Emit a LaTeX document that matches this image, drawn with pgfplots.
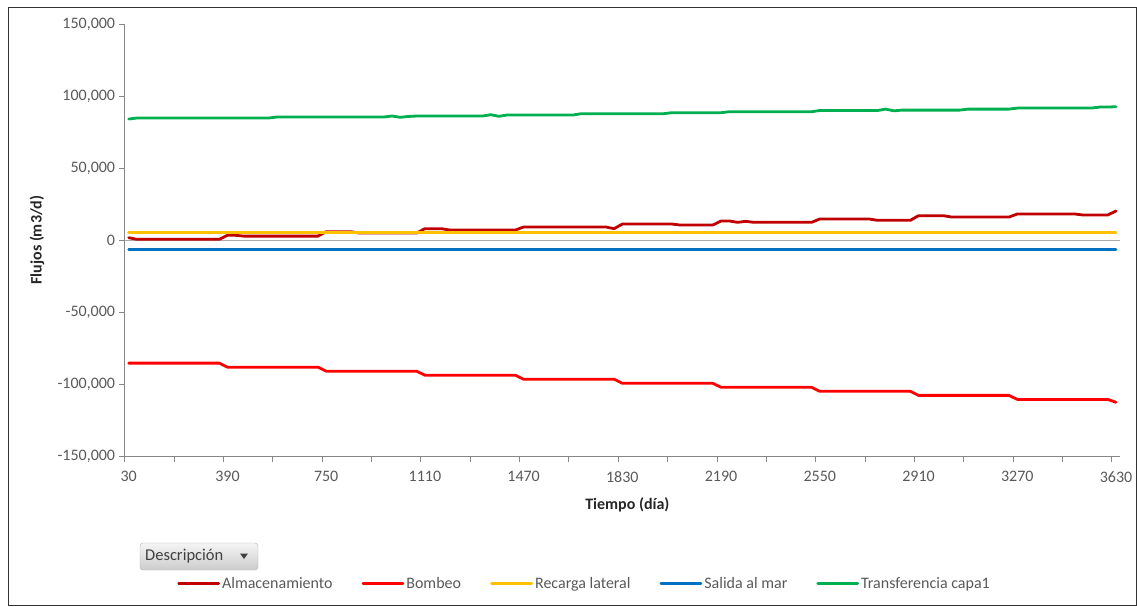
\documentclass[border=0pt]{standalone}
\usepackage{pgfplots}
\usepackage{pgfplotstable}
\pgfplotsset{compat=1.18}
\usepackage{fontspec}
\setmainfont{Carlito}
\definecolor{almac}{RGB}{192,0,0}
\definecolor{bombeo}{RGB}{255,0,0}
\definecolor{recarga}{RGB}{255,192,0}
\definecolor{salida}{RGB}{0,112,192}
\definecolor{transf}{RGB}{0,176,80}
\definecolor{labelgray}{RGB}{89,89,89}
\definecolor{axisgray}{RGB}{134,134,134}
\definecolor{zerogray}{RGB}{170,170,170}

\pgfplotstableread{
day S B R M G
30 1620 -85500 4900 -6700 84000
60 460 -85500 4900 -6700 84700
90 460 -85500 4900 -6700 84700
120 460 -85500 4900 -6700 84700
150 460 -85500 4900 -6700 84700
180 460 -85500 4900 -6700 84700
210 460 -85500 4900 -6700 84700
240 460 -85500 4900 -6700 84700
270 460 -85500 4900 -6700 84700
300 460 -85500 4900 -6700 84700
330 460 -85500 4900 -6700 84700
360 460 -85500 4900 -6700 84700
390 3240 -88300 4900 -6700 84700
420 3240 -88300 4900 -6700 84700
450 2700 -88300 4900 -6700 84700
480 2700 -88300 4900 -6700 84700
510 2700 -88300 4900 -6700 84700
540 2700 -88300 4900 -6700 84700
570 2700 -88300 4900 -6700 85400
600 2700 -88300 4900 -6700 85400
630 2700 -88300 4900 -6700 85400
660 2700 -88300 4900 -6700 85400
690 2700 -88300 4900 -6700 85400
720 2700 -88300 4900 -6700 85400
750 5790 -91100 4900 -6700 85400
780 5790 -91100 4900 -6700 85400
810 5790 -91100 4900 -6700 85400
840 5790 -91100 4900 -6700 85400
870 4860 -91100 4900 -6700 85400
900 4860 -91100 4900 -6700 85400
930 4860 -91100 4900 -6700 85400
960 4860 -91100 4900 -6700 85400
990 4860 -91100 4900 -6700 86100
1020 4860 -91100 4900 -6700 85200
1050 4860 -91100 4900 -6700 85800
1080 4860 -91100 4900 -6700 86100
1110 7870 -93900 4900 -6700 86100
1140 7870 -93900 4900 -6700 86100
1170 7870 -93900 4900 -6700 86100
1200 6940 -93900 4900 -6700 86100
1230 6940 -93900 4900 -6700 86100
1260 6940 -93900 4900 -6700 86100
1290 6940 -93900 4900 -6700 86100
1320 6940 -93900 4900 -6700 86100
1350 6940 -93900 4900 -6700 87000
1380 6940 -93900 4900 -6700 85900
1410 6940 -93900 4900 -6700 86800
1440 6940 -93900 4900 -6700 86800
1470 9030 -96700 4900 -6700 86800
1500 9030 -96700 4900 -6700 86800
1530 9030 -96700 4900 -6700 86800
1560 9030 -96700 4900 -6700 86800
1590 9030 -96700 4900 -6700 86800
1620 9030 -96700 4900 -6700 86800
1650 9030 -96700 4900 -6700 86800
1680 9030 -96700 4900 -6700 87700
1710 9030 -96700 4900 -6700 87700
1740 9030 -96700 4900 -6700 87700
1770 9030 -96700 4900 -6700 87700
1800 7870 -96700 4900 -6700 87700
1830 11110 -99500 4900 -6700 87700
1860 11110 -99500 4900 -6700 87700
1890 11110 -99500 4900 -6700 87700
1920 11110 -99500 4900 -6700 87700
1950 11110 -99500 4900 -6700 87700
1980 11110 -99500 4900 -6700 87700
2010 11110 -99500 4900 -6700 88400
2040 10420 -99500 4900 -6700 88400
2070 10420 -99500 4900 -6700 88400
2100 10420 -99500 4900 -6700 88400
2130 10420 -99500 4900 -6700 88400
2160 10420 -99500 4900 -6700 88400
2190 13190 -102300 4900 -6700 88400
2220 13190 -102300 4900 -6700 89100
2250 12270 -102300 4900 -6700 89100
2280 12960 -102300 4900 -6700 89100
2310 12270 -102300 4900 -6700 89100
2340 12270 -102300 4900 -6700 89100
2370 12270 -102300 4900 -6700 89100
2400 12270 -102300 4900 -6700 89100
2430 12270 -102300 4900 -6700 89100
2460 12270 -102300 4900 -6700 89100
2490 12270 -102300 4900 -6700 89100
2520 12270 -102300 4900 -6700 89100
2550 14580 -105100 4900 -6700 89900
2580 14580 -105100 4900 -6700 89900
2610 14580 -105100 4900 -6700 89900
2640 14580 -105100 4900 -6700 89900
2670 14580 -105100 4900 -6700 89900
2700 14580 -105100 4900 -6700 89900
2730 14580 -105100 4900 -6700 89900
2760 13660 -105100 4900 -6700 89900
2790 13660 -105100 4900 -6700 90900
2820 13660 -105100 4900 -6700 89700
2850 13660 -105100 4900 -6700 90200
2880 13660 -105100 4900 -6700 90200
2910 16900 -107900 4900 -6700 90200
2940 16900 -107900 4900 -6700 90200
2970 16900 -107900 4900 -6700 90200
3000 16900 -107900 4900 -6700 90200
3030 15970 -107900 4900 -6700 90200
3060 15970 -107900 4900 -6700 90200
3090 15970 -107900 4900 -6700 90900
3120 15970 -107900 4900 -6700 90900
3150 15970 -107900 4900 -6700 90900
3180 15970 -107900 4900 -6700 90900
3210 15970 -107900 4900 -6700 90900
3240 15970 -107900 4900 -6700 90900
3270 18050 -110700 4900 -6700 91600
3300 18050 -110700 4900 -6700 91600
3330 18050 -110700 4900 -6700 91600
3360 18050 -110700 4900 -6700 91600
3390 18050 -110700 4900 -6700 91600
3420 18050 -110700 4900 -6700 91600
3450 18050 -110700 4900 -6700 91600
3480 18050 -110700 4900 -6700 91600
3510 17360 -110700 4900 -6700 91600
3540 17360 -110700 4900 -6700 91600
3570 17360 -110700 4900 -6700 92300
3600 17360 -110700 4900 -6700 92300
3630 20140 -112700 4900 -6700 92600
}\datatable

\begin{document}
\begin{tikzpicture}[x=1pt,y=1pt]
\useasboundingbox (0,0) rectangle (1137,606);
\draw[black!80, line width=0.8pt] (8.5,0.5) rectangle (1136.5,599);
\begin{axis}[
  at={(124.6pt,150pt)}, anchor=south west,
  scale only axis, width=995.5pt, height=432pt,
  xmin=15, xmax=3645, ymin=-150000, ymax=150000,
  axis x line*=bottom, axis y line*=left,
  axis line style={draw=axisgray, line width=0.8pt},
  tick align=outside, major tick length=6pt,
  tick style={draw=axisgray, line width=0.8pt},
  xtick={15,195,...,3645}, xticklabels={},
  extra x ticks={30,390,750,1110,1470,1830,2190,2550,2910,3270,3630},
  extra x tick labels={30,390,750,1110,1470,1830,2190,2550,2910,3270,3630},
  extra x tick style={tick style={draw=none}},
  xticklabel style={yshift=-6pt},
  scaled y ticks=false, scaled x ticks=false,
  ytick={-150000,-100000,-50000,0,50000,100000,150000},
  yticklabels={{-150,000},{-100,000},{-50,000},{0},{50,000},{100,000},{150,000}},
  ticklabel style={font=\fontsize{16}{19}\selectfont, text=labelgray},
  extra y ticks={0}, extra y tick labels={},
  extra y tick style={grid=major, major grid style={draw=zerogray, line width=0.9pt}, tick style={draw=none}},
  xlabel={\textbf{Tiempo (día)}},
  ylabel={\textbf{Flujos (m3/d)}},
  label style={font=\fontsize{16}{19}\selectfont, text=black!85},
  xlabel style={at={(axis description cs:0.505,-0.113)}, anchor=center},
  ylabel style={at={(axis description cs:-0.088,0.5)}, anchor=center},
  legend columns=5,
  legend style={draw=none, fill=none, at={(axis description cs:0.462,-0.296)}, anchor=center,
    font=\fontsize{16}{19}\selectfont, text=labelgray,
    /tikz/every even column/.append style={column sep=27pt}},
  legend image code/.code={\draw[#1] (0pt,0pt) -- (40pt,0pt);},
  every axis plot/.append style={line width=2.8pt, line join=round, line cap=round, no markers},
]
\addplot[color=almac] table[x=day,y=S]{\datatable};
\addlegendentry{Almacenamiento}
\addplot[color=bombeo] table[x=day,y=B]{\datatable};
\addlegendentry{Bombeo}
\addplot[color=recarga, line width=3pt] table[x=day,y=R]{\datatable};
\addlegendentry{Recarga lateral}
\addplot[color=salida] table[x=day,y=M]{\datatable};
\addlegendentry{Salida al mar}
\addplot[color=transf] table[x=day,y=G]{\datatable};
\addlegendentry{Transferencia capa1}
\end{axis}
\shade[top color=gray!8, bottom color=gray!40, draw=gray!60, rounded corners=3pt] (140,36) rectangle (258,63);
\node[anchor=west, text=black!75, font=\fontsize{16.5}{19}\selectfont, inner sep=0pt] at (145,49.5) {Descripción};
\fill[black!75] (240,52.5) -- (248,52.5) -- (244,47) -- cycle;
\end{tikzpicture}
\end{document}
